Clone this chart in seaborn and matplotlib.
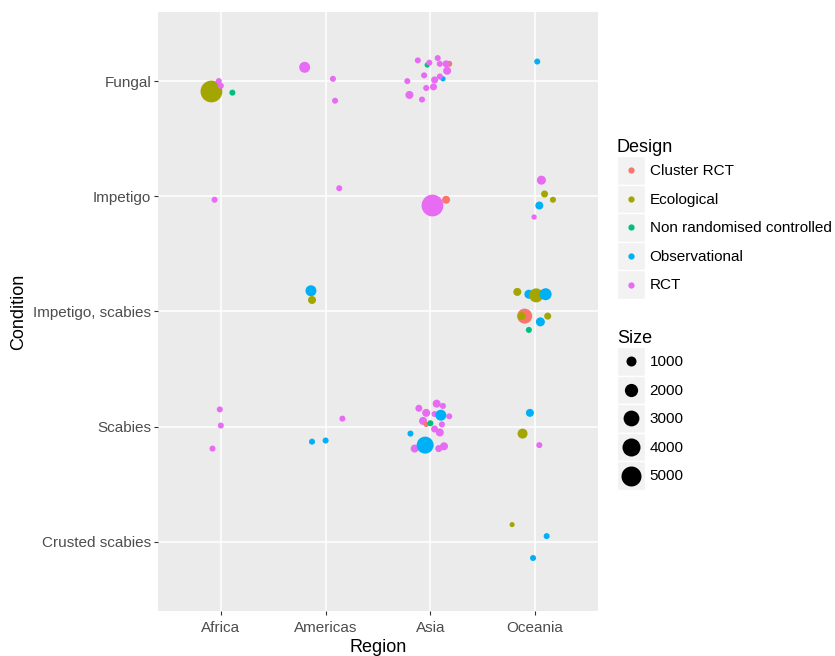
import numpy as np
import pandas as pd
import matplotlib
matplotlib.use("Agg")
import matplotlib.pyplot as plt
import seaborn as sns
from matplotlib.lines import Line2D
from matplotlib.patches import Rectangle
from matplotlib.legend_handler import HandlerBase

# categories (conditions listed bottom -> top)
regions = ["Africa", "Americas", "Asia", "Oceania"]
conditions = ["Crusted scabies", "Scabies", "Impetigo, scabies", "Impetigo", "Fungal"]
designs = ["Cluster RCT", "Ecological", "Non randomised controlled", "Observational", "RCT"]
palette = ["#F8766D", "#A3A500", "#00BF7D", "#00B0F6", "#E76BF3"]
C, E, N, O, R = designs

# one entry per study (jitter offsets in category units)
region = (["Africa"] * 4 + ["Americas"] * 3 + ["Asia"] * 17 + ["Oceania"]                 # Fungal
          + ["Africa", "Americas", "Asia", "Asia"] + ["Oceania"] * 5                    # Impetigo
          + ["Americas"] * 2 + ["Oceania"] * 9                                          # Impetigo, scabies
          + ["Africa"] * 3 + ["Americas"] * 3 + ["Asia"] * 18 + ["Oceania"] * 3         # Scabies
          + ["Oceania"] * 3)                                                            # Crusted scabies
condition = (["Fungal"] * 25 + ["Impetigo"] * 9 + ["Impetigo, scabies"] * 11
             + ["Scabies"] * 27 + ["Crusted scabies"] * 3)
design = ([E, R, R, N, R, R, R, R, N, R, R, R, C, R, R, R, R, O, R, R, R, R, R, R, O]
          + [R, R, R, C, R, E, E, O, R]
          + [O, E, E, O, E, O, C, E, E, O, N]
          + [R, R, R, O, O, R, R, R, R, R, R, R, O, R, C, N, R, R, R, O, R, O, R, R, O, E, R]
          + [E, O, O])
sample_size = ([6100, 150, 150, 150, 1280, 150, 150,
                150, 40, 150, 150, 150, 150, 320, 520, 150, 150, 40, 150, 320, 320, 150, 520, 150, 150]
               + [150, 150, 6100, 520, 750, 320, 150, 520, 40]
               + [1280, 520, 520, 750, 2280, 1590, 2670, 520, 320, 750, 150]
               + [150, 150, 150, 150, 150, 150,
                  320, 520, 150, 520, 150, 150, 1280, 520, 40, 150, 150, 320, 520, 150, 520, 3520, 320, 520,
                  520, 1000, 150]
               + [10, 150, 150])
jitter_x = ([-0.09, -0.02, 0.00, 0.11, -0.20, 0.07, 0.09,
             -0.12, -0.03, -0.01, 0.07, 0.09, 0.18, 0.15, 0.16, -0.06, -0.22, 0.12, 0.09, 0.04, 0.03, -0.04, -0.20, -0.08, 0.02]
            + [-0.06, 0.13, 0.02, 0.15, 0.06, 0.09, 0.17, 0.04, -0.01]
            + [-0.14, -0.13, -0.17, -0.06, 0.01, 0.10, -0.10, -0.13, 0.12, 0.05, -0.06]
            + [-0.01, 0.00, -0.08, -0.13, 0.00, 0.16,
               -0.11, 0.06, 0.12, -0.04, 0.18, 0.04, 0.10, -0.07, -0.04, 0.00, 0.11, 0.04, 0.09, -0.19, -0.15, -0.05, 0.08, 0.13,
               -0.05, -0.12, 0.04]
            + [-0.22, 0.11, -0.02])
jitter_y = ([-0.09, 0.00, -0.04, -0.10, 0.12, 0.02, -0.17,
             0.18, 0.14, 0.16, 0.20, 0.15, 0.15, 0.15, 0.09, 0.05, 0.00, 0.02, 0.04, 0.01, -0.05, -0.06, -0.12, -0.16, 0.17]
            + [-0.03, 0.07, -0.08, -0.03, 0.14, 0.02, -0.03, -0.08, -0.18]
            + [0.18, 0.10, 0.17, 0.15, 0.14, 0.15, -0.04, -0.04, -0.04, -0.09, -0.16]
            + [0.15, 0.01, -0.19, -0.13, -0.12, 0.07,
               0.16, 0.20, 0.18, 0.12, 0.09, 0.11, 0.10, 0.05, 0.02, 0.03, 0.02, -0.02, -0.05, -0.06, -0.19, -0.16, -0.19, -0.17,
               0.12, -0.06, -0.16]
            + [0.15, 0.05, -0.14])
size_breaks = [1000, 2000, 3000, 4000, 5000]

df = pd.DataFrame({"Region": region, "Condition": condition, "Design": design, "Size": sample_size})
df["x"] = df["Region"].map({r: i + 1 for i, r in enumerate(regions)}) + np.array(jitter_x)
df["y"] = df["Condition"].map({c: i + 1 for i, c in enumerate(conditions)}) + np.array(jitter_y)

plt.rcParams["font.family"] = ["Liberation Sans", "DejaVu Sans"]

S_MIN, S_MAX, N_MAX = 13, 246, 6000

fig = plt.figure(figsize=(8.35, 6.56), dpi=100)
ax = fig.add_axes([158 / 835, 1 - 611 / 656, (598 - 158) / 835, (611 - 12) / 656])
sns.scatterplot(data=df, x="x", y="y", hue="Design", hue_order=designs, palette=palette,
                size="Size", sizes=(S_MIN, S_MAX), size_norm=(0, N_MAX),
                linewidth=0, alpha=1, legend=False, ax=ax)

ax.set_facecolor("#EBEBEB")
ax.set_xlim(0.4, 4.6)
ax.set_ylim(0.4, 5.6)
ax.set_xticks(range(1, 5), regions)
ax.set_yticks(range(1, 6), conditions)
ax.grid(color="white", linewidth=1.1)
ax.set_axisbelow(True)
for s in ax.spines.values():
    s.set_visible(False)
ax.tick_params(colors="#333333", length=3, width=0.8, labelcolor="#4D4D4D", labelsize=11)
ax.tick_params(axis="x", pad=4.5)
ax.tick_params(axis="y", pad=2)
ax.set_xlabel("Region", fontsize=13, labelpad=2.5)
ax.set_ylabel("Condition", fontsize=13, labelpad=4)


# ggplot-like legend key: grey square with the marker centred
class KeyHandler(HandlerBase):
    def create_artists(self, legend, orig_handle, xdescent, ydescent, width, height, fontsize, trans):
        box = Rectangle((-xdescent, -ydescent), width, height, facecolor="#F2F2F2",
                        edgecolor="white", linewidth=1, transform=trans)
        dot = Line2D([-xdescent + width / 2], [-ydescent + height / 2], marker="o", linestyle="",
                     color=orig_handle.get_color(), markersize=orig_handle.get_markersize(),
                     markeredgewidth=0, transform=trans)
        return [box, dot]


common = dict(loc="upper left", bbox_transform=fig.transFigure, frameon=False, fontsize=11,
              title_fontsize=13, handlelength=1.84, handleheight=2.5, handletextpad=0.3,
              labelspacing=0.0, borderpad=0, borderaxespad=0, alignment="left",
              handler_map={Line2D: KeyHandler()})

design_handles = [Line2D([], [], marker="o", linestyle="", color=c, markersize=4.5) for c in palette]
leg1 = ax.legend(design_handles, designs, title="Design",
                 bbox_to_anchor=(617 / 835, 1 - 139 / 656), **common)
ax.add_artist(leg1)

size_handles = [Line2D([], [], marker="o", linestyle="", color="black",
                       markersize=np.sqrt(S_MIN + (S_MAX - S_MIN) * v / N_MAX)) for v in size_breaks]
leg2 = ax.legend(size_handles, [str(v) for v in size_breaks], title="Size",
                 bbox_to_anchor=(617 / 835, 1 - 330 / 656), **common)

fig.savefig("out.png", dpi=100)
